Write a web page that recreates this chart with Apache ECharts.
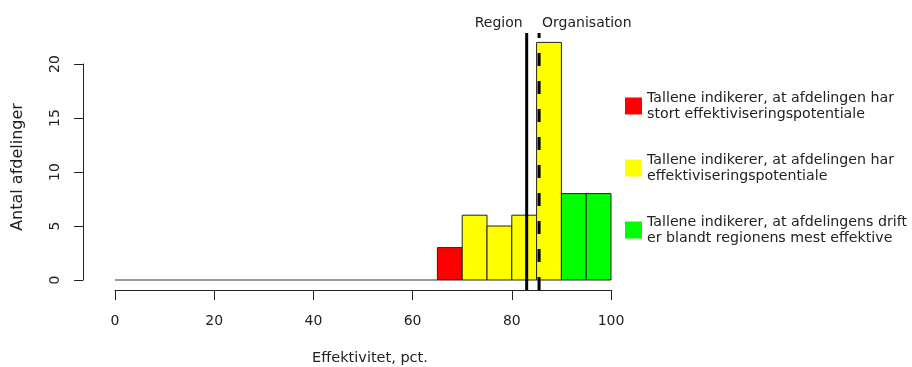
<!DOCTYPE html>
<html>
<head>
<meta charset="utf-8">
<script src="https://cdn.jsdelivr.net/npm/echarts@6/dist/echarts.min.js"></script>
<style>html,body{margin:0;padding:0;background:#fff}#c{width:912px;height:367px}</style>
</head>
<body>
<div id="c"></div>
<script>
// Histogram bins (lower edges), width 5
const binStarts = [0,5,10,15,20,25,30,35,40,45,50,55,60,65,70,75,80,85,90,95];
const binWidth = 5;
const counts    = [0,0,0,0,0,0,0,0,0,0,0,0,0,3,6,5,6,22,8,8];
const binClass  = ['z','z','z','z','z','z','z','z','z','z','z','z','z','red','yellow','yellow','yellow','yellow','green','green'];
const classNames = {
  red: 'Tallene indikerer, at afdelingen har\nstort effektiviseringspotentiale',
  yellow: 'Tallene indikerer, at afdelingen har\neffektiviseringspotentiale',
  green: 'Tallene indikerer, at afdelingens drift\ner blandt regionens mest effektive'
};
const classColors = { red: '#ff0000', yellow: '#ffff00', green: '#00ff00' };
const refNames = ['Region', 'Organisation'];
const refValues = [83.0, 85.5];
const xTicks = [0, 20, 40, 60, 80, 100];
const yTicks = [0, 5, 10, 15, 20];

const FONT = 'DejaVu Sans, Liberation Sans, sans-serif';
const chart = echarts.init(document.getElementById('c'));

function binsFor(cls) {
  const out = [];
  binStarts.forEach((s, i) => { if (binClass[i] === cls) out.push([s, s + binWidth, counts[i]]); });
  return out;
}

function barRender(params, api) {
  const p0 = api.coord([api.value(0), 0]);
  const p1 = api.coord([api.value(1), api.value(2)]);
  return {
    type: 'rect',
    shape: { x: p0[0], y: p1[1], width: p1[0] - p0[0], height: p0[1] - p1[1] },
    style: { fill: api.visual('color'), stroke: '#222', lineWidth: 1 }
  };
}

const series = ['red', 'yellow', 'green'].map(cls => ({
  type: 'custom',
  name: classNames[cls],
  itemStyle: { color: classColors[cls] },
  renderItem: barRender,
  data: binsFor(cls),
  clip: false,
  silent: true
}));

series.push({
  type: 'custom',
  name: 'zero',
  renderItem: function (params, api) {
    const p0 = api.coord([api.value(0), 0]);
    const p1 = api.coord([api.value(1), 0]);
    return { type: 'line', shape: { x1: p0[0], y1: p0[1], x2: p1[0], y2: p1[1] }, style: { stroke: '#333', lineWidth: 1 } };
  },
  data: binsFor('z'),
  silent: true
});

series.push({
  type: 'custom',
  name: 'refs',
  clip: false,
  silent: true,
  renderItem: function (params, api) {
    const v = api.value(0);
    const idx = params.dataIndex;
    const pb = api.coord([v, 0]);
    const pt = api.coord([v, 22.87]);
    const dashed = idx === 1;
    return {
      type: 'group',
      children: [
        { type: 'line', shape: { x1: pb[0], y1: pb[1] + 10, x2: pt[0], y2: pt[1] },
          style: { stroke: '#000', lineWidth: 3, lineDash: dashed ? [13, 15] : null } },
        { type: 'text', x: dashed ? pt[0] + 3 : pt[0] - 4, y: pt[1] - 10,
          style: { text: refNames[idx], font: '14px ' + FONT, fill: '#222',
                   align: dashed ? 'left' : 'right', verticalAlign: 'middle' } }
      ]
    };
  },
  data: refValues.map(v => [v])
});

chart.setOption({
  animation: false,
  textStyle: { fontFamily: FONT },
  grid: { left: 115, right: 301, top: 64, bottom: 87, outerBoundsMode: 'none', containLabel: false },
  legend: {
    data: ['red', 'yellow', 'green'].map(c => classNames[c]),
    orient: 'vertical',
    left: 620, top: 85,
    icon: 'rect', itemWidth: 17, itemHeight: 17, itemGap: 30,
    selectedMode: false,
    itemStyle: { borderWidth: 0 },
    textStyle: { fontSize: 14.2, lineHeight: 16, color: '#222', fontFamily: FONT }
  },
  xAxis: {
    type: 'value', min: 0, max: 100, interval: 20, offset: 10,
    name: 'Effektivitet, pct.', nameLocation: 'middle', nameGap: 61,
    nameTextStyle: { fontSize: 14.5, color: '#222', padding: [0, 0, 0, 14] },
    axisLine: { show: true, onZero: false, lineStyle: { color: '#222', width: 1 } },
    axisTick: { show: true, length: 10, lineStyle: { color: '#222' }, customValues: xTicks },
    axisLabel: { fontSize: 14, color: '#222', margin: 24, customValues: xTicks },
    splitLine: { show: false }
  },
  yAxis: {
    type: 'value', min: 0, max: 20, interval: 5, offset: 32,
    name: 'Antal afdelinger', nameLocation: 'middle', nameGap: 57,
    nameTextStyle: { fontSize: 16, color: '#222', padding: [0, 0, 0, 10] },
    axisLine: { show: true, onZero: false, lineStyle: { color: '#222', width: 1 } },
    axisTick: { show: true, length: 9, lineStyle: { color: '#222' }, customValues: yTicks },
    axisLabel: { fontSize: 14, color: '#222', rotate: 90, margin: 21, customValues: yTicks },
    splitLine: { show: false }
  },
  series: series
});
</script>
</body>
</html>
